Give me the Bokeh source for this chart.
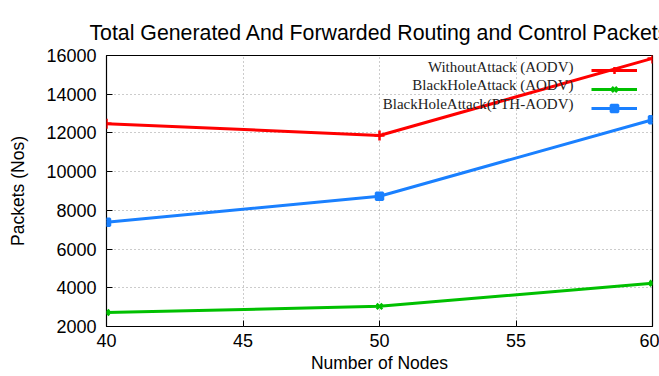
from bokeh.plotting import figure
from bokeh.models import Range1d, Legend, LegendItem, Label, FixedTicker, Title
from bokeh.embed import file_html
from bokeh.resources import INLINE

nodes = [40, 50, 60]
without_attack = [12480, 11870, 15850]
blackhole_aodv = [2720, 3040, 4230]
blackhole_pth = [7380, 8730, 12680]
labels = ["WithoutAttack (AODV)", "BlackHoleAttack (AODV)", "BlackHoleAttack(PTH-AODV)"]
x_ticks = [40, 45, 50, 55, 60]
y_ticks = [2000, 4000, 6000, 8000, 10000, 12000, 14000, 16000]

p = figure(width=659, height=376, output_backend="svg", toolbar_location=None,
           x_range=Range1d(40, 60), y_range=Range1d(2000, 16000),
           min_border_left=106, min_border_right=7, min_border_top=55, min_border_bottom=50)
p.title = Title(text="Total Generated And Forwarded Routing and Control Packets",
                align="center", text_font="Liberation Sans", text_font_size="21.3px",
                text_font_style="normal", text_color="black", standoff=22)
p.outline_line_color = "black"
p.outline_line_width = 1.2
p.background_fill_color = "white"
p.border_fill_color = "white"

for ax in (p.xaxis[0], p.yaxis[0]):
    ax.axis_line_color = None
    ax.major_tick_in = 6
    ax.major_tick_out = 0
    ax.major_tick_line_color = "black"
    ax.minor_tick_line_color = None
    ax.major_label_text_font = "Liberation Sans"
    ax.major_label_text_font_size = "18px"
    ax.major_label_text_color = "black"
    ax.axis_label_text_font = "Liberation Sans"
    ax.axis_label_text_font_size = "17.5px"
    ax.axis_label_text_font_style = "normal"
    ax.axis_label_text_color = "black"
p.xaxis.ticker = FixedTicker(ticks=x_ticks)
p.yaxis.ticker = FixedTicker(ticks=y_ticks)
p.xaxis.axis_label = "Number of Nodes"
p.yaxis.axis_label = "Packets (Nos)"
p.xaxis.major_label_standoff = 7
p.yaxis.major_label_standoff = 10
p.xaxis.axis_label_standoff = 3
p.yaxis.axis_label_standoff = 15

p.grid.grid_line_color = "#999999"
p.grid.grid_line_dash = "1 3"
p.grid.grid_line_width = 1

colors = ["#ff0000", "#00c000", "#1a80ff"]
markers = ["cross", "x", "square"]
sizes = [10, 8, 7]
series = [without_attack, blackhole_aodv, blackhole_pth]

items = []
for ys, c, m, s, lab in zip(series, colors, markers, sizes, labels):
    ln = p.line(nodes, ys, line_color=c, line_width=3)
    sc = p.scatter(nodes, ys, marker=m, size=s, line_color=c, fill_color=c, line_width=2.5)
    items.append(LegendItem(label=" ", renderers=[ln, sc]))

leg = Legend(items=items, location=(485, 209), glyph_width=46, glyph_height=18,
             label_height=18, spacing=1, padding=0, margin=0,
             border_line_color=None, background_fill_alpha=0,
             label_text_font_size="2px", label_standoff=0, label_width=1)
p.add_layout(leg)

for i, lab in enumerate(labels):
    p.add_layout(Label(x=467, y=260 - i * 18.5, x_units="screen", y_units="screen",
                       text=lab, text_align="right", text_baseline="middle",
                       text_font="Liberation Serif", text_font_size="15px",
                       text_color="#222222"))

open("out.html", "w").write(file_html(p, INLINE))
